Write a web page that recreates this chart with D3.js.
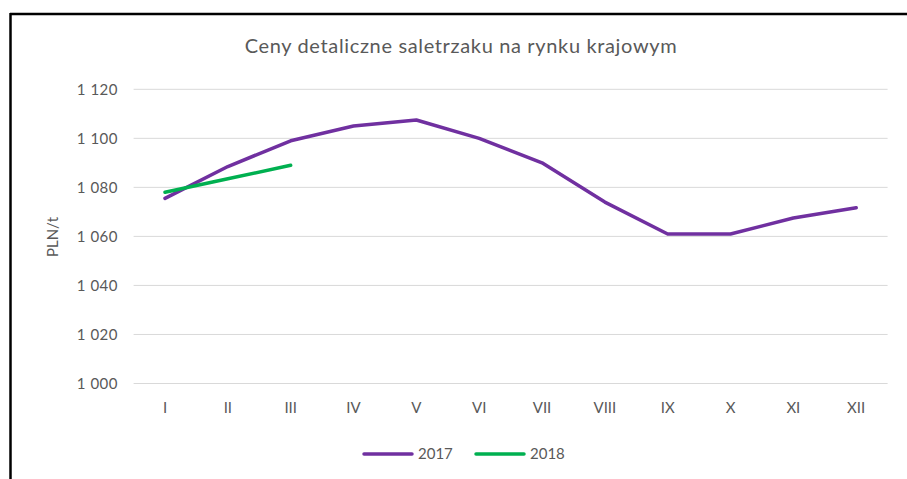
<!DOCTYPE html>
<html>
<head>
<meta charset="utf-8">
<script src="https://cdn.jsdelivr.net/npm/d3@7"></script>
<style>
  html, body { margin: 0; padding: 0; background: #fff; }
  svg { display: block; }
  text { font-family: Lato, "Open Sans", sans-serif; fill: #595959; }
</style>
</head>
<body>
<svg id="chart" width="907" height="479"></svg>
<script>
const months = ["I","II","III","IV","V","VI","VII","VIII","IX","X","XI","XII"];
const series2017 = [1075.5, 1088.5, 1099, 1105, 1107.5, 1100, 1090, 1074, 1061, 1061, 1067.5, 1071.7];
const series2018 = [1078, 1083.5, 1089];
const yTicks = [1000, 1020, 1040, 1060, 1080, 1100, 1120];
const seriesNames = ["2017", "2018"];
const seriesColors = ["#7030A0", "#00B050"];
const titleText = "Ceny detaliczne saletrzaku na rynku krajowym";
const yTitle = "PLN/t";

const svg = d3.select("#chart");
const W = 907, H = 479;

// frame (only top and left border visible in reference)
svg.append("line").attr("x1", 10).attr("x2", W).attr("y1", 14).attr("y2", 14)
  .attr("stroke", "#000").attr("stroke-width", 2.5);
svg.append("line").attr("x1", 10.5).attr("x2", 10.5).attr("y1", 13).attr("y2", H)
  .attr("stroke", "#000").attr("stroke-width", 2.5);

const x = d3.scaleBand().domain(months).range([133.6, 887.6]);
const y = d3.scaleLinear().domain([1000, 1120]).range([383.5, 89.3]);

// gridlines
svg.append("g").selectAll("line").data(yTicks).join("line")
  .attr("x1", x.range()[0]).attr("x2", x.range()[1])
  .attr("y1", d => y(d)).attr("y2", d => y(d))
  .attr("stroke", "#d9d9d9").attr("stroke-width", 1);

// y axis
const fmt = d => { const s = String(d); return s.slice(0, s.length - 3) + " " + s.slice(-3); };
const yAxis = svg.append("g").attr("transform", "translate(118,0)")
  .call(d3.axisLeft(y).tickValues(yTicks).tickSize(0).tickPadding(0).tickFormat(fmt));
yAxis.select(".domain").remove();
yAxis.selectAll("text").style("font-size", "15px").attr("fill", "#595959")
  .style("font-family", "Lato, sans-serif").style("white-space", "pre")
  .style("letter-spacing", "0.5px");

// x axis
const xAxis = svg.append("g").attr("transform", `translate(0,${y(1000)})`)
  .call(d3.axisBottom(x).tickSize(0).tickPadding(19));
xAxis.select(".domain").remove();
xAxis.selectAll("text").style("font-size", "15px").attr("fill", "#595959")
  .style("font-family", "Lato, sans-serif");

// lines
const line = d3.line().x((d, i) => x(months[i]) + x.bandwidth() / 2).y(d => y(d));
[series2017, series2018].forEach((s, k) => {
  svg.append("path").datum(s).attr("d", line)
    .attr("fill", "none").attr("stroke", seriesColors[k])
    .attr("stroke-width", 3.5).attr("stroke-linejoin", "round").attr("stroke-linecap", "round");
});

// title
svg.append("text").attr("x", 461).attr("y", 53).attr("text-anchor", "middle")
  .style("font-size", "20px").style("letter-spacing", "0.65px").text(titleText);

// y title
svg.append("text").attr("transform", "translate(58,237) rotate(-90)")
  .attr("text-anchor", "middle").style("font-size", "15px").text(yTitle);

// legend
const legX = [364, 476];
seriesNames.forEach((n, k) => {
  svg.append("line").attr("x1", legX[k]).attr("x2", legX[k] + 48)
    .attr("y1", 454).attr("y2", 454)
    .attr("stroke", seriesColors[k]).attr("stroke-width", 3.5).attr("stroke-linecap", "round");
  svg.append("text").attr("x", legX[k] + 54).attr("y", 459)
    .style("font-size", "15px").text(n);
});
</script>
</body>
</html>
